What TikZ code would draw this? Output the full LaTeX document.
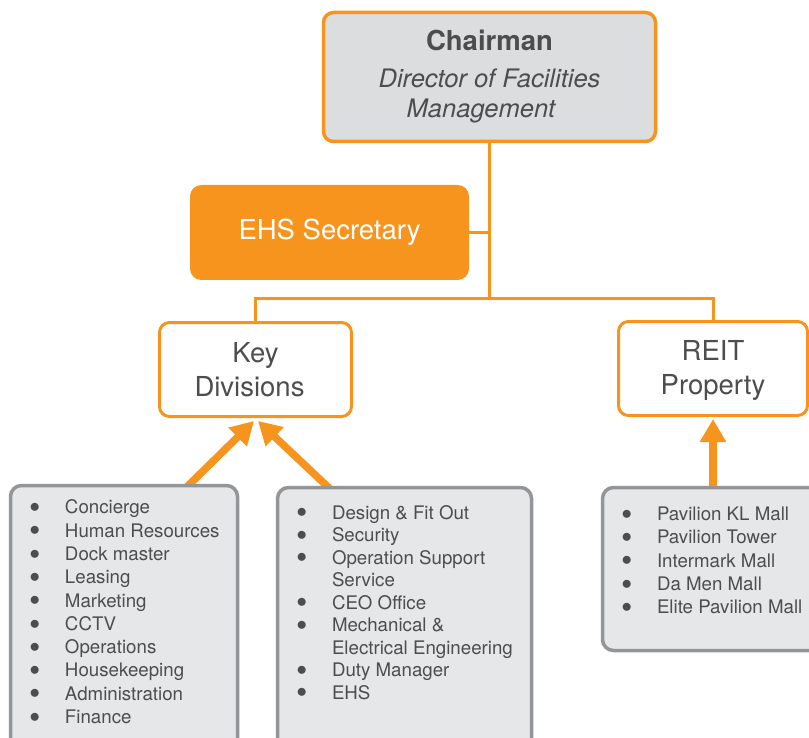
\documentclass[tikz,border=0pt]{standalone}
\usepackage{fontspec}
\setmainfont{TeX Gyre Heros}
\usetikzlibrary{arrows.meta,backgrounds}

\definecolor{fmorange}{HTML}{F7941D}
\definecolor{chairgray}{HTML}{DCDDDE}
\definecolor{listgray}{HTML}{E6E7E8}
\definecolor{framegray}{HTML}{939598}
\definecolor{inkgray}{HTML}{4D4D4F}

% list lines inside the grey boxes
\newcommand{\itemfont}[1]{\fontsize{18.7}{#1}\selectfont}
\newcommand{\orgdot}{\raisebox{1.3pt}{\fontsize{22}{22}\selectfont$\bullet$}}
\newcommand{\orgitem}[1]{\hspace*{19pt}\makebox[35.5pt][l]{\orgdot}#1\strut\par}
\newcommand{\orgcont}[1]{\hspace*{54.5pt}#1\strut\par}

\begin{document}
\begin{tikzpicture}[x=1pt, y=-1pt,
    orgbox/.style={draw=fmorange, line width=3pt, rounded corners=10pt, fill=white,
      align=center, text=inkgray, font=\fontsize{27.5}{34}\selectfont},
    listbox/.style={draw=framegray, line width=3.5pt, rounded corners=11pt,
      fill=listgray, inner sep=0pt, text=inkgray},
    link/.style={draw=fmorange, line width=3pt},
    feed/.style={fmorange, line width=7.5pt, -{Triangle[width=25pt,length=23pt]}}]
  \clip (0,0) rectangle (809,738);

  \node[orgbox, fill=chairgray, line width=3.5pt, minimum width=332pt, minimum height=129pt,
    font=\fontsize{25.5}{30}\selectfont] (chairman) at (489.5,77)
    {\textbf{\fontsize{27.5}{30}\selectfont Chairman}\\[7pt]\textit{Director of Facilities}\\\textit{Management}\hspace*{16pt}};
  \node[orgbox, fill=fmorange, text=white, minimum width=276pt, minimum height=92pt] (ehs) at (329.5,232.5) {EHS Secretary};
  \node[orgbox, minimum width=192pt, minimum height=94pt] (keydiv) at (255.5,369.5) {Key\\Divisions\hspace*{12pt}};
  \node[orgbox, minimum width=189pt, minimum height=94pt] (reit) at (713,368.5) {\rule{0pt}{23pt}REIT\\Property};

  \node[listbox] (mallops) at (124,617.75) {\parbox[c][264.5pt][t]{227pt}{\itemfont{23.3}\vspace*{12pt}
    \orgitem{Concierge}
    \orgitem{Human Resources}
    \orgitem{Dock master}
    \orgitem{Leasing}
    \orgitem{Marketing}
    \orgitem{CCTV}
    \orgitem{Operations}
    \orgitem{Housekeeping}
    \orgitem{Administration}
    \orgitem{Finance}}};
  \node[listbox] (siteops) at (404.5,618.75) {\parbox[c][262.5pt][t]{254pt}{\itemfont{22.5}\vspace*{16pt}
    \orgitem{Design \& Fit Out}
    \orgitem{Security}
    \orgitem{Operation Support}
    \orgcont{Service}
    \orgitem{CEO Office}
    \orgitem{Mechanical \&}
    \orgcont{Electrical Engineering}
    \orgitem{Duty Manager}
    \orgitem{EHS}}};
  \node[listbox] (malls) at (713,569) {\parbox[c][163pt][t]{221pt}{\itemfont{23.4}\vspace*{16.5pt}
    \orgitem{Pavilion KL Mall}
    \orgitem{Pavilion Tower}
    \orgitem{Intermark Mall}
    \orgitem{Da Men Mall}
    \orgitem{Elite Pavilion Mall}}};

  % reporting lines
  \coordinate (split) at (489.5,299);
  \draw[link] (chairman.south) -- (split);
  \draw[link] (ehs.east) -- (ehs.east -| split);
  \draw[link] (keydiv.north) |- (split) -| (reit.north);

  \begin{scope}[on background layer]
    \draw[feed] ([xshift=60pt,yshift=-6pt]mallops.north) -- ([xshift=-1.5pt,yshift=-3pt]keydiv.south);
    \draw[feed] ([xshift=-71.5pt,yshift=-6pt]siteops.north) -- ([xshift=2.5pt,yshift=-3pt]keydiv.south);
    \draw[feed] ([yshift=-6pt]malls.north) -- ([yshift=-2pt]reit.south);
  \end{scope}
\end{tikzpicture}
\end{document}
